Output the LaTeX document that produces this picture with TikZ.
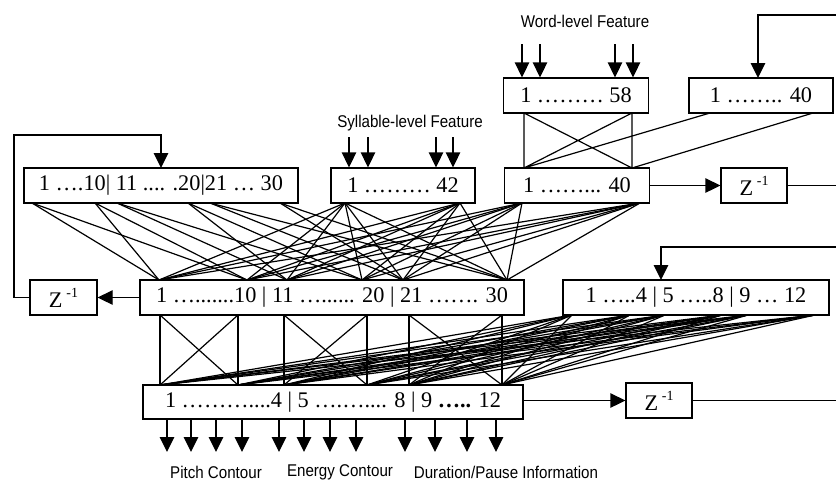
\documentclass[tikz,border=0pt]{standalone}
\usepackage{fontspec}
\setmainfont{Liberation Serif}
\newfontfamily\lblfont[FakeStretch=0.89]{Liberation Sans}
\usetikzlibrary{arrows.meta}
\newcommand{\zinv}{Z\,\raisebox{0.45em}{\fontsize{14}{14}\selectfont -1}}
\begin{document}
\begin{tikzpicture}[x=1pt,y=-1pt,
  box/.style={draw,line width=1.3pt,inner sep=0pt,font=\fontsize{22.3}{26}\selectfont,minimum height=35pt},
  wire/.style={line width=1.2pt},
  arr/.style={line width=1.3pt,-{Triangle[length=15pt,width=14.5pt]}},
  lbl/.style={font=\lblfont\fontsize{17}{20}\selectfont,inner sep=0pt}]
\useasboundingbox (0,0) rectangle (836,483);

% boxes
\node[box,minimum width=274pt] (A) at (161,185.5) {1 ….10| 11 .... .20|21 … 30};
\node[box,minimum width=144pt] (S) at (403,185.5) {1 ……… 42};
\node[box,minimum width=145pt] (WH) at (577,185.5) {1 ……... 40};
\node[box,minimum width=66pt] (ZW) at (754,185.5) {\zinv};
\node[box,minimum width=145pt] (W) at (576,95.5) {1 ……… 58};
\node[box,minimum width=144pt] (RC) at (761,95.5) {1 …….. 40};
\node[box,minimum width=384pt] (H) at (332,297.5) {1 ….......10 | 11 …...... 20 | 21 ……. 30};
\node[box,minimum width=67pt] (ZH) at (63.5,297.5) {\zinv};
\node[box,minimum width=266pt] (OC) at (696,297.5) {1 …..4 | 5 …..8 | 9 … 12};
\node[box,minimum width=380pt,minimum height=34pt] (O) at (333,402) {1 ………....4 | 5 ….….... 8 | 9 \textbf{…..} 12};
\node[box,minimum width=66pt] (ZO) at (659,400.5) {\zinv};

% labels
\node[lbl] (lw) at (585,21) {Word-level Feature};
\node[lbl] (ls) at (410,123) {Syllable-level Feature};
\node[lbl] (lp) at (216,472) {Pitch Contour};
\node[lbl] (le) at (340,472) {Energy Contour};
\node[lbl] (ld) at (506,472) {Duration/Pause Information};

% connection points
\foreach \n/\x in {1/32,2/95,3/117,4/188,5/210,6/280} \coordinate (a\n) at (\x,203);
\foreach \n/\x in {1/345,2/460} \coordinate (s\n) at (\x,203);
\foreach \n/\x in {1/522,2/640} \coordinate (w\n) at (\x,203);
\foreach \n/\x in {1/159,2/247,3/287,4/362,5/403,6/507} \coordinate (h\n) at (\x,280);
\foreach \n/\x in {1/160,2/238,3/284,4/367,5/409,6/502} {\coordinate (hb\n) at (\x,315); \coordinate (o\n) at (\x,385);}
\foreach \n/\x in {1/572,2/630,3/665,4/722,5/748,6/815} \coordinate (c\n) at (\x,315);
\coordinate (wt1) at (524,113); \coordinate (wt2) at (632,113);
\coordinate (wb1) at (524,168); \coordinate (wb2) at (632,168);
\coordinate (r1) at (710,113); \coordinate (r2) at (813,113);

% context A -> hidden (grouped)
\foreach \i in {1,2} \foreach \j in {1,2} \draw[wire] (a\i) -- (h\j);
\foreach \i in {3,4} \foreach \j in {3,4} \draw[wire] (a\i) -- (h\j);
\foreach \i in {5,6} \foreach \j in {5,6} \draw[wire] (a\i) -- (h\j);
% syllable and word hidden -> hidden (full)
\foreach \p in {s1,s2,w1,w2} \foreach \j in {1,...,6} \draw[wire] (\p) -- (h\j);
% hidden -> output (grouped)
\foreach \i in {1,...,6} \draw[wire] (hb\i) -- (o\i);
\draw[wire] (hb1) -- (o2) (hb2) -- (o1) (hb3) -- (o4) (hb4) -- (o3) (hb5) -- (o6) (hb6) -- (o5);
% output context -> output (full)
\foreach \i in {1,...,6} \foreach \j in {1,...,6} \draw[wire] (c\i) -- (o\j);
% word -> word hidden
\draw[wire] (wt1) -- (wb1) (wt2) -- (wb2) (wt1) -- (wb2) (wt2) -- (wb1) (r1) -- (wb1) (r2) -- (wb2);

% input arrows
\foreach \n/\x in {1/349,2/368,3/436,4/453} {\coordinate (sa\n) at (\x,137); \draw[arr] (sa\n) -- (sa\n |- S.north);}
\foreach \n/\x in {1/522,2/540,3/615,4/633} {\coordinate (wa\n) at (\x,44); \draw[arr] (wa\n) -- (wa\n |- W.north);}
% output arrows
\foreach \n/\x in {1/167,2/191,3/216,4/242,5/279,6/304,7/330,8/356,9/405,10/435,11/467,12/496} {\coordinate (oa\n) at (\x,452); \draw[arr] (O.south -| oa\n) -- (oa\n);}

% recurrent paths
\coordinate (fa) at (14,135);
\coordinate (fat) at (161,168);
\draw[arr] (ZH.west) -| (fa) -| (fat);
\draw[arr] (H.west) -- (ZH.east);
\draw[arr] (WH.east) -- (ZW.west);
\coordinate (zwout) at (836,185.5);
\draw[line width=1.3pt] (ZW.east) -- (zwout);
\coordinate (rcin) at (836,15);
\coordinate (rct) at (758,78);
\draw[arr] (rcin) -| (rct);
\coordinate (ocin) at (836,247);
\coordinate (oct) at (661,280);
\draw[arr] (ocin) -| (oct);
\draw[arr] (O.east |- ZO.west) -- (ZO.west);
\coordinate (zoout) at (836,400.5);
\draw[line width=1.3pt] (ZO.east) -- (zoout);
\end{tikzpicture}
\end{document}
